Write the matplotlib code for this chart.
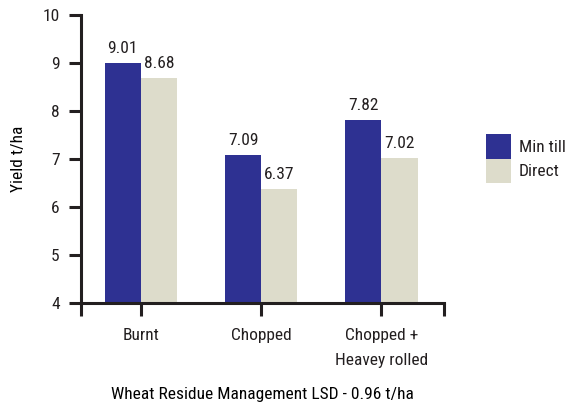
import matplotlib
matplotlib.use("Agg")
import matplotlib.pyplot as plt
import numpy as np
from matplotlib import font_manager

categories = ["Burnt", "Chopped", "Chopped +\nHeavey rolled"]
series_names = ["Min till", "Direct"]
min_till = [9.01, 7.09, 7.82]
direct = [8.68, 6.37, 7.02]
colors = ["#2E3192", "#DDDCCB"]
text_color = "#231F20"

names = {f.name for f in font_manager.fontManager.ttflist}
family = "DejaVu Sans"
for cand in ["Roboto Condensed", "Liberation Sans Narrow", "Open Sans Condensed", "Roboto"]:
    if cand in names:
        family = cand
        break
plt.rcParams["font.family"] = [family, "DejaVu Sans"]
plt.rcParams["text.color"] = text_color
fs = 12.5

fig = plt.figure(figsize=(5.66, 4.03), dpi=100)
ax = fig.add_axes([80.7 / 566, (403 - 303.3) / 403, (444 - 80.7) / 566, (303.3 - 15) / 403])

x = np.arange(len(categories))
w = 0.3
b1 = ax.bar(x - w / 2, np.array(min_till) - 4, w, bottom=4, color=colors[0], label=series_names[0])
b2 = ax.bar(x + w / 2, np.array(direct) - 4, w, bottom=4, color=colors[1], label=series_names[1])

for bars, vals in [(b1, min_till), (b2, direct)]:
    for rect, v in zip(bars, vals):
        ax.annotate(f"{v:.2f}", (rect.get_x() + rect.get_width() / 2, v),
                    xytext=(0, 5), textcoords="offset points",
                    ha="center", va="bottom", fontsize=fs)

ax.set_ylim(4, 10)
ax.set_xlim(-0.5, 2.52)
ax.set_yticks(np.arange(4, 11, 1))
ax.set_xticks(list(x))
ax.set_xticklabels(categories, fontsize=fs, linespacing=1.85)
ax.set_xticks([-0.5, 2.52], minor=True)
ax.tick_params(axis="both", which="both", direction="out", length=9, width=2.2, colors="#231F20",
               labelcolor=text_color)
ax.tick_params(axis="x", pad=9)
ax.tick_params(axis="y", labelsize=fs, pad=6)

for s in ["top", "right"]:
    ax.spines[s].set_visible(False)
for s in ["left", "bottom"]:
    ax.spines[s].set_linewidth(2.2)
    ax.spines[s].set_color("#231F20")

ax.set_ylabel("Yield t/ha", fontsize=fs, labelpad=12)
ax.set_xlabel("Wheat Residue Management LSD - 0.96 t/ha", fontsize=fs, labelpad=13)

ax.legend(loc="upper left", bbox_to_anchor=(486 / 566, 1 - 134 / 403), bbox_transform=fig.transFigure,
          frameon=False, fontsize=fs, handlelength=1.45, handleheight=1.8, handletextpad=0.45,
          labelspacing=0.0, borderpad=0, borderaxespad=0)

fig.savefig("out.png", dpi=100)
